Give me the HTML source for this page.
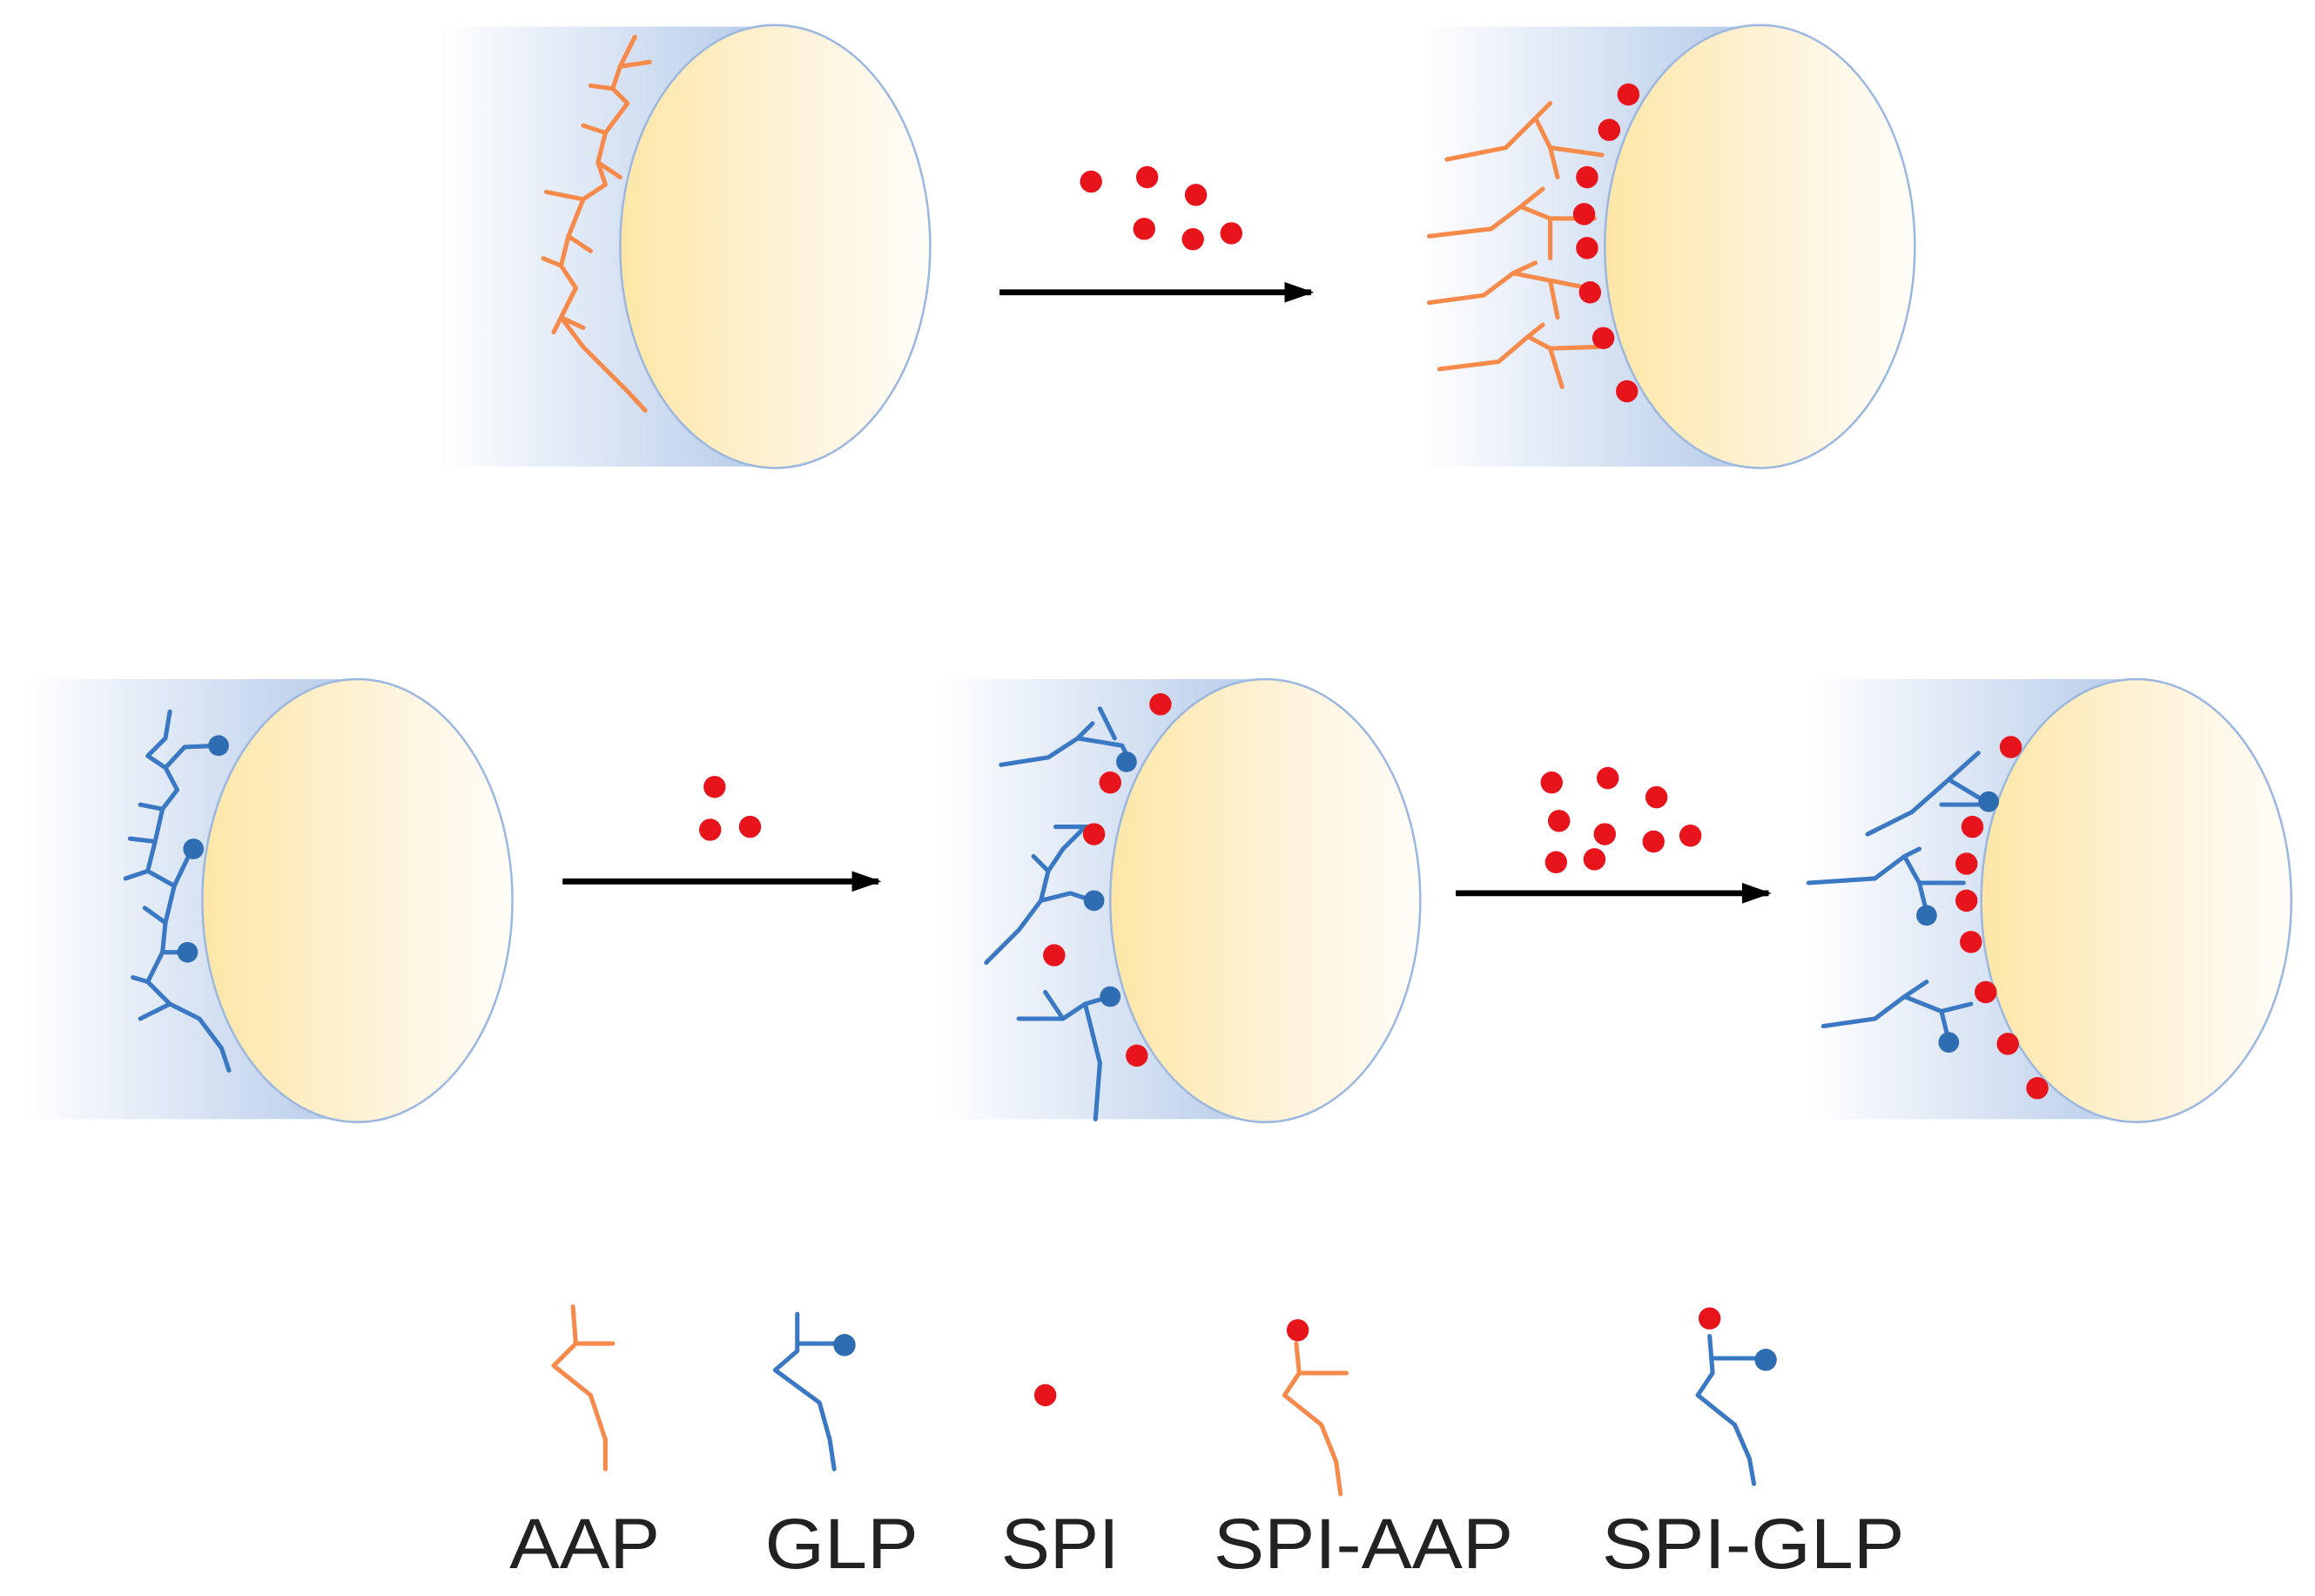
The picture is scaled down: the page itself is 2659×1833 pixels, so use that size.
<!DOCTYPE html>
<html><head><meta charset="utf-8"><style>html,body{margin:0;padding:0;background:#fff}svg{display:block}</style></head>
<body>
<svg width="2659" height="1833" viewBox="0 0 1568 1081" xmlns="http://www.w3.org/2000/svg">
<defs>
<linearGradient id="bg" x1="0" x2="1" y1="0" y2="0"><stop offset="0" stop-color="#fff"/><stop offset="1" stop-color="#b9cdea"/></linearGradient>
<linearGradient id="yg" x1="0" x2="1" y1="0" y2="0"><stop offset="0" stop-color="#fde6a6"/><stop offset="0.6" stop-color="#fef4dc"/><stop offset="1" stop-color="#fffdf8"/></linearGradient>
<marker id="ah" markerWidth="20" markerHeight="14" refX="18" refY="7" orient="auto" markerUnits="userSpaceOnUse"><path d="M0,0 L20,7 L0,14 z" fill="#000"/></marker>
</defs>
<rect x="297" y="18" width="215" height="298" fill="url(#bg)"/>
<ellipse cx="525" cy="167" rx="105" ry="150" fill="url(#yg)" stroke="#9db8df" stroke-width="1.5"/>
<rect x="963" y="18" width="215" height="298" fill="url(#bg)"/>
<ellipse cx="1192" cy="167" rx="105" ry="150" fill="url(#yg)" stroke="#9db8df" stroke-width="1.5"/>
<rect x="15" y="460" width="215" height="298" fill="url(#bg)"/>
<ellipse cx="242" cy="610" rx="105" ry="150" fill="url(#yg)" stroke="#9db8df" stroke-width="1.5"/>
<rect x="635" y="460" width="215" height="298" fill="url(#bg)"/>
<ellipse cx="857" cy="610" rx="105" ry="150" fill="url(#yg)" stroke="#9db8df" stroke-width="1.5"/>
<rect x="1225" y="460" width="215" height="298" fill="url(#bg)"/>
<ellipse cx="1447" cy="610" rx="105" ry="150" fill="url(#yg)" stroke="#9db8df" stroke-width="1.5"/>

<g stroke="#000" stroke-width="4" fill="none">
<line x1="677" y1="198" x2="888" y2="198" marker-end="url(#ah)"/>
<line x1="381" y1="597" x2="595" y2="597" marker-end="url(#ah)"/>
<line x1="986" y1="605" x2="1198" y2="605" marker-end="url(#ah)"/>
</g>

<g stroke="#f58a4b" stroke-width="3" fill="none" stroke-linejoin="round" stroke-linecap="round">
<path d="M430,25 L420,45 L415,60 L425,70 L410,90 L405,110 L410,125 L395,135 L385,160 L380,180 L390,195 L380,215 L395,235 L410,250 L425,265 L437,278"/>
<path d="M420,45 L440,42 M415,60 L400,58 M410,90 L395,85 M405,110 L420,120 M395,135 L370,130 M385,160 L400,170 M380,180 L368,175 M380,215 L395,222 M390,195 L375,225"/>
</g>
<g stroke="#f58a4b" stroke-width="3" fill="none" stroke-linejoin="round" stroke-linecap="round">
<path d="M980,108 L1020,100 L1040,80 L1050,70 M1040,80 L1050,100 L1085,105 M1050,100 L1055,120"/>
<path d="M968,160 L1010,155 L1030,140 L1045,128 M1030,140 L1050,148 L1080,148 M1050,148 L1050,175"/>
<path d="M968,205 L1005,200 L1025,185 L1040,178 M1025,185 L1050,190 L1075,195 M1050,190 L1055,215"/>
<path d="M975,250 L1015,245 L1035,228 L1045,220 M1035,228 L1050,236 L1082,235 M1050,236 L1058,262"/>
</g>
<g stroke="#3a78c4" stroke-width="3" fill="none" stroke-linejoin="round" stroke-linecap="round">
<path d="M115,482 L112,500 L100,512 L112,520 L125,506 L148,505 M112,520 L120,535 L110,548 L95,545 M110,548 L105,570 L88,568 M105,570 L100,590 L85,595 M100,590 L118,600 L130,575 M118,600 L112,625 L98,615 M112,625 L110,645 L128,645 M110,645 L100,665 L90,662 M100,665 L115,680 L135,690 L150,710 L155,725 M115,680 L95,690"/>
</g>
<g fill="#2f6db3"><circle cx="148" cy="505" r="7"/><circle cx="131" cy="575" r="7"/><circle cx="127" cy="645" r="7"/></g>

<g stroke="#3a78c4" stroke-width="3" fill="none" stroke-linejoin="round" stroke-linecap="round">
<path d="M678,518 L710,513 L730,500 L740,490 M730,500 L760,505 L765,515 M745,480 L755,500"/>
<path d="M668,652 L690,630 L705,610 L710,590 L720,575 L735,560 M705,610 L725,605 L740,610 M710,590 L700,580"/>
<path d="M690,690 L720,690 L735,680 L752,675 M735,680 L745,720 L742,758 M720,690 L708,672"/>
<path d="M715,560 L740,560"/>
</g>
<g fill="#2f6db3"><circle cx="763" cy="516" r="7"/><circle cx="741" cy="610" r="7"/><circle cx="752" cy="675" r="7"/></g>
<g stroke="#3a78c4" stroke-width="3" fill="none" stroke-linejoin="round" stroke-linecap="round">
<path d="M1265,565 L1295,550 L1320,528 L1340,510 M1320,528 L1340,540 M1315,545 L1345,545"/>
<path d="M1225,598 L1270,595 L1290,580 L1300,575 M1290,580 L1300,598 L1305,618 M1300,598 L1330,598"/>
<path d="M1235,695 L1270,690 L1290,675 L1305,665 M1290,675 L1315,685 L1320,705 M1315,685 L1335,680"/>
</g>
<g fill="#2f6db3"><circle cx="1347" cy="543" r="7"/><circle cx="1305" cy="620" r="7"/><circle cx="1320" cy="706" r="7"/></g>

<g fill="#e8141b">
<circle cx="739" cy="123" r="7.5"/><circle cx="777" cy="120" r="7.5"/><circle cx="810" cy="132" r="7.5"/><circle cx="775" cy="155" r="7.5"/><circle cx="808" cy="162" r="7.5"/><circle cx="834" cy="158" r="7.5"/>
<circle cx="1103" cy="64" r="7.5"/><circle cx="1090" cy="88" r="7.5"/><circle cx="1075" cy="120" r="7.5"/><circle cx="1073" cy="145" r="7.5"/><circle cx="1075" cy="168" r="7.5"/><circle cx="1077" cy="198" r="7.5"/><circle cx="1086" cy="229" r="7.5"/><circle cx="1102" cy="265" r="7.5"/>
<circle cx="484" cy="533" r="7.5"/><circle cx="481" cy="562" r="7.5"/><circle cx="508" cy="560" r="7.5"/>
<circle cx="786" cy="477" r="7.5"/><circle cx="752" cy="530" r="7.5"/><circle cx="741" cy="565" r="7.5"/><circle cx="714" cy="647" r="7.5"/><circle cx="770" cy="715" r="7.5"/>
<circle cx="1051" cy="530" r="7.5"/><circle cx="1089" cy="527" r="7.5"/><circle cx="1122" cy="540" r="7.5"/><circle cx="1056" cy="556" r="7.5"/><circle cx="1087" cy="565" r="7.5"/><circle cx="1120" cy="570" r="7.5"/><circle cx="1145" cy="566" r="7.5"/><circle cx="1054" cy="584" r="7.5"/><circle cx="1080" cy="582" r="7.5"/>
<circle cx="1362" cy="506" r="7.5"/><circle cx="1336" cy="560" r="7.5"/><circle cx="1332" cy="585" r="7.5"/><circle cx="1332" cy="610" r="7.5"/><circle cx="1335" cy="638" r="7.5"/><circle cx="1345" cy="672" r="7.5"/><circle cx="1360" cy="707" r="7.5"/><circle cx="1380" cy="737" r="7.5"/>
</g>

<g stroke="#f58a4b" stroke-width="3" fill="none" stroke-linejoin="round" stroke-linecap="round">
<path d="M388,885 L390,910 L375,925 L400,945 L410,975 L410,995 M390,910 L415,910"/>
<path d="M878,910 L880,930 L870,945 L895,965 L905,990 L908,1012 M880,930 L912,930"/>
</g>
<g stroke="#3a78c4" stroke-width="3" fill="none" stroke-linejoin="round" stroke-linecap="round">
<path d="M540,890 L540,915 L525,928 L555,950 L562,975 L565,995 M540,910 L572,910"/>
<path d="M1158,905 L1160,930 L1150,945 L1175,965 L1185,988 L1188,1005 M1160,920 L1195,920"/>
</g>
<g fill="#2f6db3"><circle cx="572" cy="911" r="7.5"/><circle cx="1196" cy="921" r="7.5"/></g>
<g fill="#e8141b"><circle cx="708" cy="945" r="7.5"/><circle cx="879" cy="901" r="7.5"/><circle cx="1158" cy="893" r="7.5"/></g>
<g font-family="Liberation Sans, sans-serif" font-size="48" fill="#222" lengthAdjust="spacingAndGlyphs">
<text x="345" y="1062" textLength="102" lengthAdjust="spacingAndGlyphs">AAP</text>
<text x="518" y="1062" textLength="104" lengthAdjust="spacingAndGlyphs">GLP</text>
<text x="678" y="1062" textLength="80" lengthAdjust="spacingAndGlyphs">SPI</text>
<text x="822" y="1062" textLength="203" lengthAdjust="spacingAndGlyphs">SPI-AAP</text>
<text x="1085" y="1062" textLength="205" lengthAdjust="spacingAndGlyphs">SPI-GLP</text>
</g>
</svg>
</body></html>
